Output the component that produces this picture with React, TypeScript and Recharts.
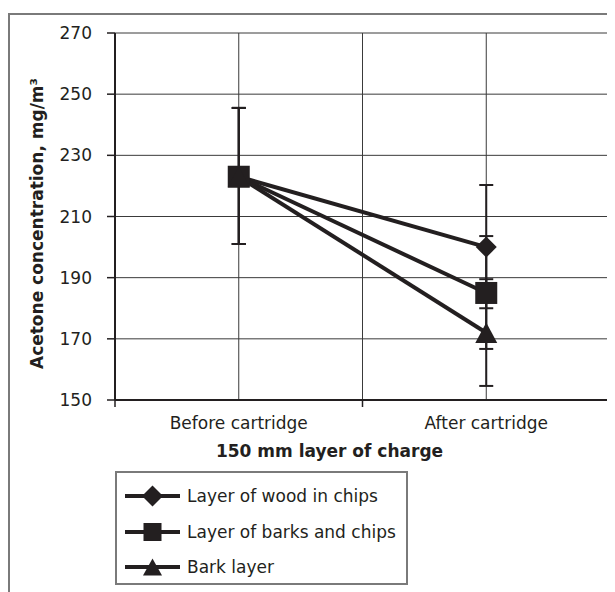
import React from 'react';
import { LineChart, Line, XAxis, YAxis, CartesianGrid, ErrorBar } from 'recharts';

const categories = ['Before cartridge', 'After cartridge'];
const seriesNames = ['Layer of wood in chips', 'Layer of barks and chips', 'Bark layer'];
const woodChips = [223, 200];
const barksChips = [223, 185];
const barkOnly = [223, 172];
const woodLow = [201, 180];
const woodHigh = [245.5, 220.3];
const barksLow = [201, 166.7];
const barksHigh = [245.5, 203.6];
const barkLow = [201, 154.6];
const barkHigh = [245.5, 189.5];
const yTicks = [150, 170, 190, 210, 230, 250, 270];
const xTicks = [0, 1, 2, 3, 4];

const INK = '#231f20';
const FONT = '"DejaVu Sans", sans-serif';

const data = categories.map((c, i) => ({
  x: 2 * i + 1,
  name: c,
  wood: woodChips[i],
  woodErr: [woodChips[i] - woodLow[i], woodHigh[i] - woodChips[i]],
  barks: barksChips[i],
  barksErr: [barksChips[i] - barksLow[i], barksHigh[i] - barksChips[i]],
  bark: barkOnly[i],
  barkErr: [barkOnly[i] - barkLow[i], barkHigh[i] - barkOnly[i]],
}));

const Diamond = ({ cx, cy, r = 10.5 }: any) => (
  <polygon points={`${cx},${cy - r} ${cx + r},${cy} ${cx},${cy + r} ${cx - r},${cy}`} fill={INK} />
);
const Square = ({ cx, cy, s = 22 }: any) => (
  <rect x={cx - s / 2} y={cy - s / 2} width={s} height={s} fill={INK} />
);
const Triangle = ({ cx, cy, w = 22, h = 20.5 }: any) => (
  <polygon points={`${cx},${cy - h / 2} ${cx + w / 2},${cy + h / 2} ${cx - w / 2},${cy + h / 2}`} fill={INK} />
);

const XTick = (props: any) => {
  const { x, y, payload } = props;
  const v = payload.value;
  if (v % 2 === 0) {
    return <line x1={x} y1={y} x2={x} y2={y + 7} stroke={INK} strokeWidth={1.5} />;
  }
  return (
    <text x={x} y={y + 29} textAnchor="middle" fontFamily={FONT} fontSize={17} fill={INK}>
      {categories[(v - 1) / 2]}
    </text>
  );
};

const XLabel = (props: any) => {
  const vb = props.viewBox;
  return (
    <text x={vb.x + vb.width / 2 - 33} y={vb.y + 57} textAnchor="middle" fontFamily={FONT} fontSize={17} fontWeight="bold" fill={INK}>
      150 mm layer of charge
    </text>
  );
};

const YLabel = (props: any) => {
  const vb = props.viewBox;
  const cy = vb.y + vb.height / 2 + 7;
  return (
    <text transform={`translate(35,${cy}) rotate(-90)`} textAnchor="middle" fontFamily={FONT} fontSize={17} fontWeight="bold" fill={INK}>
      Acetone concentration, mg/m³
    </text>
  );
};

const markerFor = (i: number, cx: number, cy: number, legend = false) => {
  if (i === 0) return <Diamond cx={cx} cy={cy} r={10.5} />;
  if (i === 1) return <Square cx={cx} cy={cy} s={legend ? 18 : 22} />;
  return <Triangle cx={cx} cy={cy} w={legend ? 19 : 22} h={legend ? 17 : 20.5} />;
};

const LegendBox = () => (
  <div
    style={{
      position: 'absolute',
      left: 107,
      top: 463,
      boxSizing: 'border-box',
      width: 293,
      height: 114,
      border: '2px solid #7a7a7a',
      background: '#fff',
    }}
  >
    {seriesNames.map((n, i) => (
      <div key={n} style={{ position: 'absolute', left: 0, top: [23, 59, 94][i] - 12, height: 24, display: 'flex', alignItems: 'center' }}>
        <svg width={70} height={24} style={{ display: 'block' }}>
          <line x1={8} y1={12} x2={63} y2={12} stroke={INK} strokeWidth={4} />
          {markerFor(i, 35.5, 12, true)}
        </svg>
        <span style={{ fontFamily: FONT, fontSize: 17, color: INK, whiteSpace: 'nowrap' }}>{n}</span>
      </div>
    ))}
  </div>
);

const keys = ['wood', 'barks', 'bark'];

export default function App() {
  return (
    <div style={{ position: 'relative', width: 607, height: 584, background: '#fff' }}>
      <div
        style={{
          position: 'absolute',
          left: 0,
          top: 5,
          right: 0,
          bottom: 0,
          borderTop: '2px solid #7a7a7a',
          borderLeft: '2px solid #7a7a7a',
        }}
      />
      <div style={{ position: 'absolute', left: 0, top: 0 }}>
        <LineChart width={607} height={584} data={data} margin={{ top: 25, right: 5, left: 0, bottom: 132 }}>
          <CartesianGrid stroke="#3a3a3a" strokeWidth={1} />
          <XAxis
            dataKey="x"
            type="number"
            domain={[0, 4]}
            ticks={xTicks}
            interval={0}
            tickLine={false}
            tickSize={0}
            tickMargin={0}
            tick={<XTick />}
            height={60}
            axisLine={{ stroke: INK, strokeWidth: 2 }}
            label={<XLabel />}
          />
          <YAxis
            type="number"
            domain={[150, 270]}
            ticks={yTicks}
            interval={0}
            width={107}
            tickSize={8}
            tickMargin={15}
            tick={{ fontFamily: FONT, fontSize: 17, fill: INK }}
            tickLine={{ stroke: INK, strokeWidth: 1.5 }}
            axisLine={{ stroke: INK, strokeWidth: 2 }}
            label={<YLabel />}
          />
          {keys.map((k, i) => (
            <Line
              key={k}
              dataKey={k}
              name={seriesNames[i]}
              stroke={INK}
              strokeWidth={4}
              isAnimationActive={false}
              dot={(p: any) => <g key={`${k}-${p.index}`}>{markerFor(i, p.cx, p.cy)}</g>}
              activeDot={false}
            >
              <ErrorBar dataKey={`${k}Err`} direction="y" width={7} stroke={INK} strokeWidth={2} />
            </Line>
          ))}
        </LineChart>
      </div>
      <LegendBox />
    </div>
  );
}
